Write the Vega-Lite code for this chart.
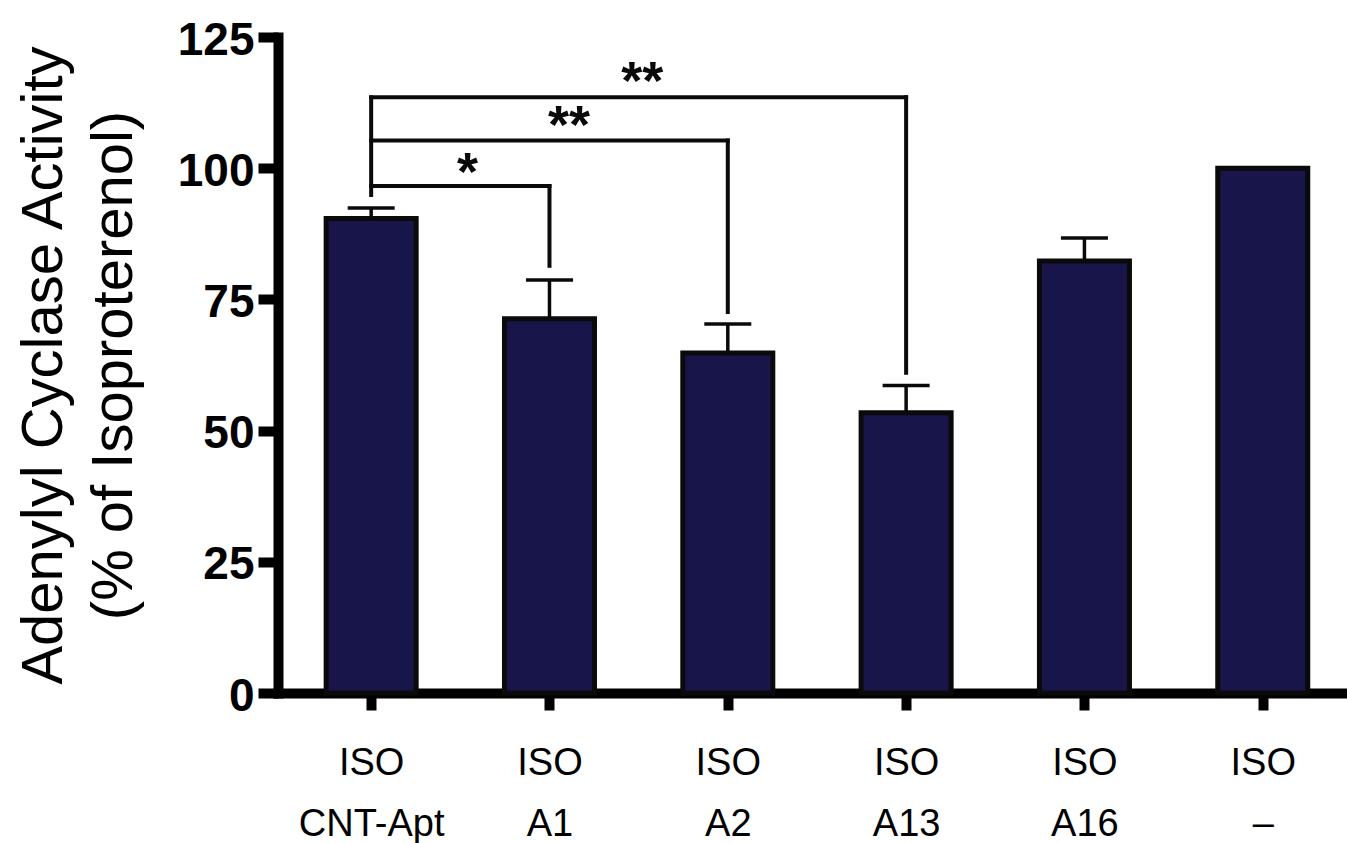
{
  "$schema": "https://vega.github.io/schema/vega-lite/v6.json",
  "width": 1069,
  "height": 656,
  "autosize": "none",
  "padding": {"left": 278, "top": 37, "right": 0, "bottom": 150},
  "background": "white",
  "config": {"view": {"stroke": null}, "axis": {"grid": false}},
  "datasets": {
    "bars": [
      {"pos": 1, "treatment": "CNT-Apt", "value": 90.4, "upper": 92.4},
      {"pos": 2, "treatment": "A1", "value": 71.3, "upper": 78.7},
      {"pos": 3, "treatment": "A2", "value": 64.8, "upper": 70.3},
      {"pos": 4, "treatment": "A13", "value": 53.4, "upper": 58.6},
      {"pos": 5, "treatment": "A16", "value": 82.3, "upper": 86.7},
      {"pos": 6, "treatment": "–", "value": 100}
    ],
    "brackets": [
      {"x1": 1, "x2": 2, "y1": 96.6, "y2": 96.6},
      {"x1": 1, "x2": 3, "y1": 105.3, "y2": 105.3},
      {"x1": 1, "x2": 4, "y1": 113.5, "y2": 113.5},
      {"x1": 1, "x2": 1, "y1": 94.9, "y2": 113.5},
      {"x1": 2, "x2": 2, "y1": 81.4, "y2": 96.6},
      {"x1": 3, "x2": 3, "y1": 72.6, "y2": 105.3},
      {"x1": 4, "x2": 4, "y1": 61.0, "y2": 113.5}
    ],
    "stars": [
      {"x": 1.54, "y": 95.8, "label": "*"},
      {"x": 2.11, "y": 104.8, "label": "**"},
      {"x": 2.52, "y": 113.2, "label": "**"}
    ]
  },
  "layer": [
    {
      "data": {"name": "bars"},
      "mark": {"type": "bar", "width": 90, "fill": "#18154a", "stroke": "#0a0a0a", "strokeWidth": 5},
      "encoding": {
        "x": {
          "field": "pos", "type": "quantitative",
          "scale": {"domain": [0.5056, 6.4444], "nice": false, "zero": false},
          "axis": {
            "values": [1, 2, 3, 4, 5, 6],
            "labelExpr": "[['ISO','CNT-Apt'],['ISO','A1'],['ISO','A2'],['ISO','A13'],['ISO','A16'],['ISO','–']][datum.value - 1]",
            "title": null,
            "labelFont": "Liberation Sans",
            "labelFontSize": 38,
            "labelLineHeight": 61,
            "labelPadding": 34,
            "labelColor": "black",
            "labelFlush": false,
            "labelOverlap": false,
            "tickSize": 17,
            "tickWidth": 10,
            "tickColor": "black",
            "domainColor": "black",
            "domainWidth": 10,
            "domainCap": "square"
          }
        },
        "y": {
          "field": "value", "type": "quantitative",
          "scale": {"domain": [0, 125], "nice": false},
          "axis": {
            "values": [0, 25, 50, 75, 100, 125],
            "title": ["Adenylyl Cyclase Activity", "(% of Isoproterenol)"],
            "titleFont": "Liberation Sans",
            "titleFontSize": 58,
            "titleFontWeight": "normal",
            "titleLineHeight": 70,
            "titlePadding": 34,
            "titleColor": "black",
            "labelFont": "Liberation Sans",
            "labelFontSize": 46,
            "labelFontWeight": "bold",
            "labelColor": "black",
            "labelPadding": 4,
            "labelOffset": 3,
            "tickSize": 20,
            "tickWidth": 10,
            "tickColor": "black",
            "domainColor": "black",
            "domainWidth": 10,
            "domainCap": "square"
          }
        }
      }
    },
    {
      "data": {"name": "bars"},
      "transform": [{"filter": "isValid(datum.upper)"}],
      "mark": {"type": "rule", "color": "#0a0a0a", "strokeWidth": 3.5},
      "encoding": {
        "x": {"field": "pos", "type": "quantitative"},
        "y": {"field": "value", "type": "quantitative"},
        "y2": {"field": "upper"}
      }
    },
    {
      "data": {"name": "bars"},
      "transform": [{"filter": "isValid(datum.upper)"}],
      "mark": {"type": "tick", "orient": "horizontal", "size": 47, "thickness": 3.5, "color": "#0a0a0a", "opacity": 1},
      "encoding": {
        "x": {"field": "pos", "type": "quantitative"},
        "y": {"field": "upper", "type": "quantitative"}
      }
    },
    {
      "data": {"name": "brackets"},
      "mark": {"type": "rule", "color": "#0a0a0a", "strokeWidth": 4, "strokeCap": "square"},
      "encoding": {
        "x": {"field": "x1", "type": "quantitative"},
        "x2": {"field": "x2"},
        "y": {"field": "y1", "type": "quantitative"},
        "y2": {"field": "y2"}
      }
    },
    {
      "data": {"name": "stars"},
      "mark": {"type": "text", "font": "Liberation Sans", "fontSize": 54, "fontWeight": "bold", "align": "center", "baseline": "alphabetic", "color": "#0a0a0a"},
      "encoding": {
        "x": {"field": "x", "type": "quantitative"},
        "y": {"field": "y", "type": "quantitative"},
        "text": {"field": "label"}
      }
    }
  ]
}
